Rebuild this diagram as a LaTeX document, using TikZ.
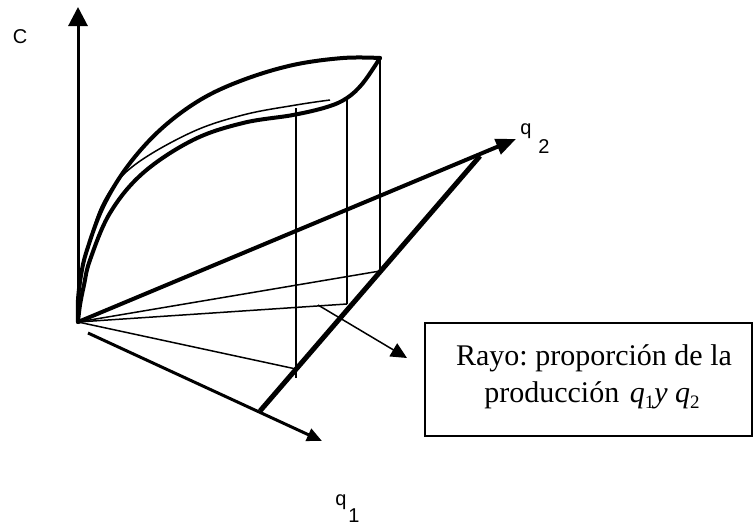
\documentclass[tikz,border=0pt]{standalone}
\usepackage{fontspec}
\setmainfont{Liberation Serif}
\newfontfamily\lsans{Liberation Sans}
\usetikzlibrary{arrows.meta}
\frenchspacing
\begin{document}
\begin{tikzpicture}[x=1pt,y=-1pt,
  thinline/.style={line width=1.5pt},
  thickcurve/.style={line width=4pt,line cap=round,line join=round},
  axislabel/.style={font=\lsans\fontsize{20}{20}\selectfont,anchor=base,inner sep=0pt},
  boxtext/.style={font=\fontsize{30}{36}\selectfont,anchor=base,inner sep=0pt}]
\useasboundingbox (0,0) rectangle (753,525);
% coordinates
\coordinate (O) at (78,322);
\coordinate (Ctip) at (78,7);
\coordinate (q2tip) at (516,139);
\coordinate (q1start) at (88,333);
\coordinate (q1tip) at (322,441);
\coordinate (B1) at (260,411);
\coordinate (B2) at (480,156);
\coordinate (R1) at (296,369);
\coordinate (R2) at (347,304);
\coordinate (R3) at (380,271);
\coordinate (V1b) at (296,378);
\coordinate (T1) at (296,108);
\coordinate (T2) at (347,98);
\coordinate (T3) at (380,58);
\coordinate (A1) at (318,305);
\coordinate (A2) at (407,358);
% axes
\draw[line width=3pt,-{Triangle[length=19pt,width=19pt]}] (O) -- (Ctip);
\draw[line width=4pt,-{Triangle[length=20pt,width=16pt]}] (O) -- (q2tip);
\draw[line width=3pt,-{Triangle[length=15pt,width=13pt]}] (q1start) -- (q1tip);
% budget line
\draw[line width=5pt] (B1) -- (B2);
% rays
\draw[thinline] (O) -- (R1);
\draw[thinline] (O) -- (R2);
\draw[thinline] (O) -- (R3);
% verticals
\draw[thinline] (T1) -- (V1b);
\draw[thinline] (T2) -- (R2);
\draw[thinline] (T3) -- (R3);
% pointer arrow
\draw[thinline,-{Triangle[length=16pt,width=15pt]}] (A1) -- (A2);
% curves
\draw[thickcurve] plot[smooth,tension=0.6] coordinates {(78,322) (78,300) (81,275) (87,250) (103,207) (127,167) (160,130) (200,100) (243,80) (293,65) (343,58) (380,58)};
\draw[thickcurve] plot[smooth,tension=0.6] coordinates {(78,322) (80,305) (84,285) (90,260) (110,213) (143,173) (193,140) (243,123) (293,115) (327,107) (347,98) (363,83) (380,58)};
\draw[line width=1.5pt] plot[smooth,tension=0.6] coordinates {(78,318) (80,290) (86,255) (103,203) (132,167) (190,133) (243,115) (296,105) (330,100)};
% labels
\node[axislabel] (Clab) at (20,43) {C};
\node[axislabel] (q2q) at (526,134) {q};
\node[axislabel] (q2i) at (544,153) {2};
\node[axislabel] (q1q) at (341,505) {q};
\node[axislabel] (q1i) at (354,522) {1};
% box
\node[draw,line width=1.5pt,minimum width=327pt,minimum height=113pt,inner sep=0pt] (box) at (588.5,379.5) {};
\node[boxtext] (line1) at (594,365) {Rayo: proporción de la};
\node[boxtext] (line2) at (592,402) {producción\hspace{0.35em}{\itshape q}\lower6pt\hbox{\fontsize{19}{19}\selectfont 1}{\itshape y} {\itshape q}\lower6pt\hbox{\fontsize{19}{19}\selectfont 2}};
\end{tikzpicture}
\end{document}
